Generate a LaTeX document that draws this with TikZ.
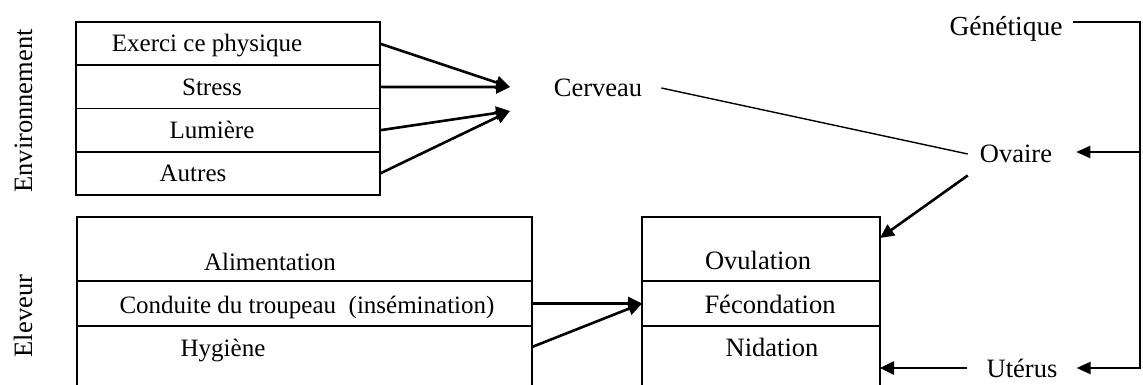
\documentclass[tikz,border=0pt]{standalone}
\usepackage{fontspec}
\setmainfont{Liberation Serif}
\usetikzlibrary{arrows.meta}
\begin{document}
\begin{tikzpicture}[x=1pt,y=-1pt,
  lbl/.style={font=\fontsize{25}{30}\selectfont, inner sep=0pt, anchor=base},
  biglbl/.style={lbl, font=\fontsize{26.5}{31}\selectfont},
  cell/.style={draw, line width=1.8pt, anchor=north west, inner sep=0pt,
    outer sep=0pt, minimum width=#1},
  envcell/.style={cell=304pt, minimum height=43.3pt},
  arr/.style={line width=2.6pt, -{Triangle[length=14pt,width=13pt]}},
  thinline/.style={line width=1.4pt},
  rail/.style={line width=2pt, -{Triangle[length=14pt,width=12pt]}}]
\useasboundingbox (0,0) rectangle (1143,385);
\clip (0,0) rectangle (1143,385);

% Environment factors
\node[envcell] (env1) at (76,22) {};
\node[envcell] (env2) at (env1.south west) {};
\node[envcell] (env3) at (env2.south west) {};
\node[envcell] (env4) at (env3.south west) {};
\node[lbl] (t1) at (207,52) {Exerci ce physique};
\node[lbl] (t2) at (212,96) {Stress};
\node[lbl] (t3) at (212,139) {Lumière};
\node[lbl] (t4) at (193,182) {Autres};
\node[biglbl, rotate=90] (envlab) at (32,111) {Environnement};

% Breeder factors
\node[cell=455pt, minimum height=64pt] (el1) at (77,217) {};
\node[cell=455pt, minimum height=45pt] (el2) at (el1.south west) {};
\node[cell=455pt, minimum height=90pt] (el3) at (el2.south west) {};
\node[lbl] (a1) at (270,270) {Alimentation};
\node[lbl] (a2) at (307,313) {Conduite du troupeau \ (insémination)};
\node[lbl] (a3) at (223,356) {Hygiène};
\node[biglbl, rotate=90] (ellab) at (32,316) {Eleveur};

% Reproduction stages
\node[cell=238pt, minimum height=64pt] (ovul) at (642,217) {};
\node[cell=238pt, minimum height=45pt] (fec) at (ovul.south west) {};
\node[cell=238pt, minimum height=90pt] (nid) at (fec.south west) {};
\node[biglbl] (r1) at (758,269) {Ovulation};
\node[biglbl] (r2) at (770,313) {Fécondation};
\node[biglbl] (r3) at (772,356) {Nidation};

% Organs
\node[biglbl] (cer) at (598,97) {Cerveau};
\node[biglbl, font=\fontsize{27.5}{32}\selectfont] (gen) at (1006,36) {Génétique};
\node[biglbl] (ova) at (1016,162) {Ovaire};
\node[biglbl] (ut) at (1022,377) {Utérus};

\coordinate (hubA) at (510,87);
\coordinate (hubB) at (510,111);
\coordinate (railtop) at (1140,22);
\coordinate (railmid) at (1140,152);
\coordinate (railbot) at (1140,368);

% environment -> brain
\draw[arr] (env1.east) -- (hubA);
\draw[arr] (env2.east) -- (hubA);
\draw[arr] (env3.east) -- (hubB);
\draw[arr] (env4.east) -- (hubB);

% brain -- ovary
\draw[thinline] ([shift={(19,-9)}]cer.base east) -- ([shift={(-12,-8)}]ova.base west);

% breeder -> fertilisation
\draw[arr] (el2.east) -- (fec.west);
\draw[arr] ([yshift=-21pt]el3.north east) -- (fec.west);

% ovary / uterus -> stages
\draw[arr] ([shift={(-12,13)}]ova.south west) -- ([yshift=-21pt]ovul.north east);
\draw[arr] ([shift={(-19,-9)}]ut.base west) -- ([yshift=-42pt]nid.north east);

% genetics rail
\draw[rail] ([shift={(10,-14)}]gen.base east) -- (railtop) -- (railbot)
  -- ([shift={(19,-9)}]ut.base east);
\draw[rail] (railmid) -- ([shift={(24,-10)}]ova.base east);
\end{tikzpicture}
\end{document}
